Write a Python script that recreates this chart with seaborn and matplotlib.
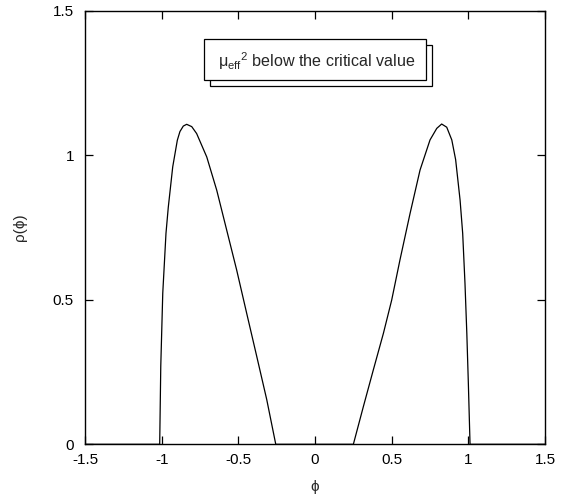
"""
Distribucion rho(phi) con dos lobulos, estilo gnuplot
"""

import numpy as np
import pandas as pd
import matplotlib
matplotlib.use("Agg")
import matplotlib.pyplot as plt
from matplotlib.patches import Rectangle
import seaborn as sns

# Datos
phi_left = [-1.5, -1.013, -1.006, -0.993, -0.972, -0.957, -0.928, -0.898,
            -0.881, -0.859, -0.837, -0.804, -0.772, -0.706, -0.641, -0.576,
            -0.511, -0.446, -0.380, -0.315, -0.256]
rho_left = [0.0, 0.0, 0.27, 0.523, 0.73, 0.82, 0.96, 1.052,
            1.082, 1.101, 1.107, 1.099, 1.075, 0.994, 0.879, 0.741,
            0.603, 0.454, 0.304, 0.155, 0.0]

phi_right = [0.250, 0.315, 0.380, 0.446, 0.500, 0.554, 0.620, 0.685,
             0.750, 0.794, 0.826, 0.859, 0.892, 0.917, 0.946, 0.963,
             0.978, 0.990, 1.000, 1.011, 1.5]
rho_right = [0.0, 0.130, 0.257, 0.384, 0.499, 0.638, 0.799, 0.949,
             1.053, 1.093, 1.108, 1.097, 1.053, 0.985, 0.845, 0.730,
             0.557, 0.384, 0.211, 0.0, 0.0]

x_ticks = [-1.5, -1, -0.5, 0, 0.5, 1, 1.5]
x_ticklabels = ["-1.5", "-1", "-0.5", "0", "0.5", "1", "1.5"]
y_ticks = [0, 0.5, 1, 1.5]
y_ticklabels = ["0", "0.5", "1", "1.5"]
legend_text = r"$\mathregular{\mu_{eff}{}^{2}}$ below the critical value"


def main():
    sns.set_style("ticks")
    plt.rcParams["font.family"] = ["Liberation Sans", "DejaVu Sans"]
    plt.rcParams["axes.unicode_minus"] = False

    df = pd.DataFrame({
        "phi": phi_left + phi_right,
        "rho": rho_left + rho_right,
    })

    fig = plt.figure(figsize=(5.71, 4.96), dpi=100)
    ax = fig.add_axes([0.1489, 0.1042, 0.8056, 0.8742])

    sns.lineplot(data=df, x="phi", y="rho", sort=False, estimator=None,
                 color="black", linewidth=0.9, ax=ax)

    ax.set_xlim(-1.5, 1.5)
    ax.set_ylim(0, 1.5)
    ax.set_xticks(x_ticks)
    ax.set_xticklabels(x_ticklabels)
    ax.set_yticks(y_ticks)
    ax.set_yticklabels(y_ticklabels)

    for s in ax.spines.values():
        s.set_visible(True)
        s.set_color("black")
        s.set_linewidth(1.0)

    ax.tick_params(axis="both", direction="in", top=True, right=True,
                   length=6, width=0.9, labelsize=11, colors="black")
    ax.tick_params(axis="x", pad=6)
    ax.tick_params(axis="y", pad=8)

    ax.set_xlabel("\u03d5", fontsize=11)
    ax.set_ylabel("\u03c1(\u03d5)", fontsize=11)
    ax.xaxis.set_label_coords(0.5, -0.082)
    ax.yaxis.set_label_coords(-0.126, 0.5)

    # Caja de leyenda con sombra
    x0, y0, w, h = 0.2587, 0.8402, 0.4826, 0.0945
    dx, dy = 0.013, -0.0138
    ax.add_patch(Rectangle((x0 + dx, y0 + dy), w, h, transform=ax.transAxes,
                           facecolor="white", edgecolor="black",
                           linewidth=0.9, zorder=4))
    ax.add_patch(Rectangle((x0, y0), w, h, transform=ax.transAxes,
                           facecolor="white", edgecolor="black",
                           linewidth=0.9, zorder=5))
    ax.text(x0 + w / 2 + 0.003, y0 + h / 2 - 0.004, legend_text,
            transform=ax.transAxes, ha="center", va="center",
            fontsize=11.6, zorder=6)

    fig.savefig("out.png", dpi=100)


if __name__ == "__main__":
    main()
